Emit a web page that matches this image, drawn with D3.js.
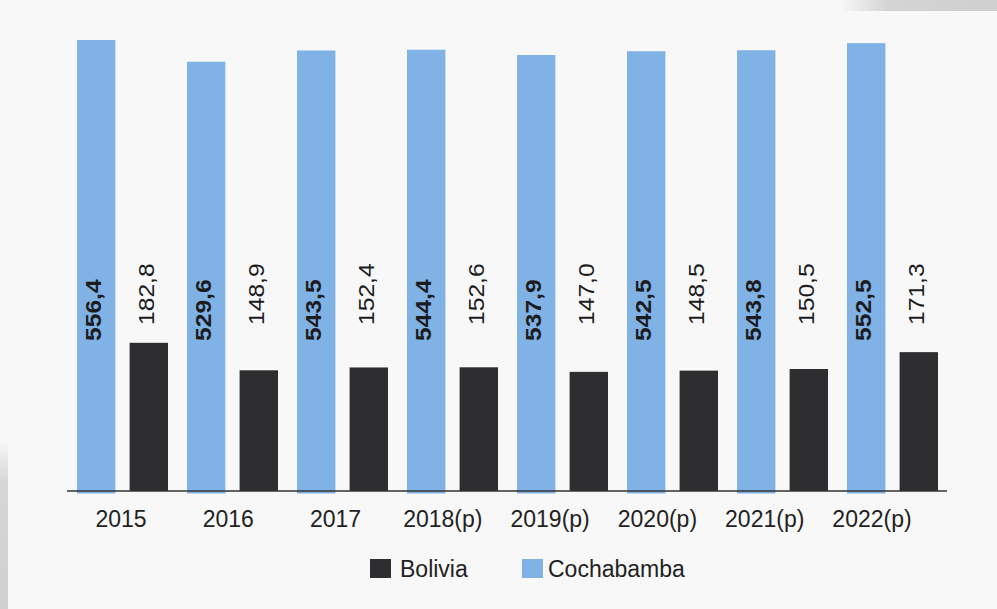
<!DOCTYPE html>
<html>
<head>
<meta charset="utf-8">
<script src="https://cdn.jsdelivr.net/npm/d3@7"></script>
<style>
  body { margin: 0; background: #f8f8f8; }
  svg { display: block; font-family: "Liberation Sans", Arial, sans-serif; }
</style>
</head>
<body>
<svg width="997" height="609"></svg>
<script>
const years = ["2015", "2016", "2017", "2018(p)", "2019(p)", "2020(p)", "2021(p)", "2022(p)"];
const cochabamba = [556.4, 529.6, 543.5, 544.4, 537.9, 542.5, 543.8, 552.5];
const bolivia = [182.8, 148.9, 152.4, 152.6, 147.0, 148.5, 150.5, 171.3];
const seriesNames = ["Cochabamba", "Bolivia"];
const legendNames = ["Bolivia", "Cochabamba"];

const width = 997, height = 609;
const baseY = 491;
const colors = { Cochabamba: "#80b2e6", Bolivia: "#2e2e30" };

const svg = d3.select("svg").attr("viewBox", [0, 0, width, height]);

// scan artefacts on edges
const defs = svg.append("defs");
const gTop = defs.append("linearGradient").attr("id", "gtop").attr("x1", 0).attr("x2", 1).attr("y1", 0).attr("y2", 0);
gTop.append("stop").attr("offset", 0).attr("stop-color", "#f8f8f8");
gTop.append("stop").attr("offset", 0.3).attr("stop-color", "#d4d4d4");
gTop.append("stop").attr("offset", 1).attr("stop-color", "#cfcfcf");
svg.append("rect").attr("x", 840).attr("y", 0).attr("width", 157).attr("height", 11).attr("fill", "url(#gtop)");
const gLeft = defs.append("linearGradient").attr("id", "gleft").attr("x1", 0).attr("x2", 0).attr("y1", 0).attr("y2", 1);
gLeft.append("stop").attr("offset", 0).attr("stop-color", "#f8f8f8");
gLeft.append("stop").attr("offset", 0.25).attr("stop-color", "#d6d6d6");
gLeft.append("stop").attr("offset", 1).attr("stop-color", "#d0d0d0");
svg.append("rect").attr("x", 0).attr("y", 440).attr("width", 8).attr("height", 169).attr("fill", "url(#gleft)");

const data = years.map((y, i) => ({ year: y, Cochabamba: cochabamba[i], Bolivia: bolivia[i] }));

const x0 = d3.scaleBand().domain(years).range([67, 947]);
const x1 = d3.scaleBand().domain(seriesNames).range([10, 101]).paddingInner(0.27);
const y = d3.scaleLinear().domain([0, 556.4]).range([baseY, 40]);
// category labels sit on a slightly tighter spacing than the bars
const xl = d3.scalePoint().domain(years).range([121, 872]);

const groups = svg.append("g").selectAll("g")
  .data(data)
  .join("g")
  .attr("transform", d => `translate(${x0(d.year)},0)`);

groups.selectAll("rect")
  .data(d => seriesNames.map(k => ({ key: k, value: d[k] })))
  .join("rect")
  .attr("x", d => x1(d.key))
  .attr("width", x1.bandwidth())
  .attr("y", d => y(d.value))
  .attr("height", d => baseY - y(d.value) + (d.key == "Cochabamba" ? 2.5 : 0))
  .attr("fill", d => colors[d.key]);

// value labels (rotated)
groups.selectAll("text")
  .data(d => seriesNames.map(k => ({ key: k, value: d[k] })))
  .join("text")
  .attr("transform", d => {
    const cx = x1(d.key) + x1.bandwidth() / 2;
    const ty = d.key == "Cochabamba" ? 341 : 325;
    return `translate(${cx + 5},${ty}) scale(1,1.12) rotate(-90)`;
  })
  .attr("text-anchor", "start")
  .attr("font-size", 22)
  .attr("font-weight", d => d.key == "Cochabamba" ? "bold" : "normal")
  .attr("fill", "#1c1c1e")
  .text(d => d3.format(".1f")(d.value).replace(".", ","));

// baseline
svg.append("line")
  .attr("x1", 67).attr("x2", 947)
  .attr("y1", baseY).attr("y2", baseY)
  .attr("stroke", "#333").attr("stroke-width", 1.5);

// category labels
svg.append("g").selectAll("text")
  .data(years)
  .join("text")
  .attr("x", d => xl(d))
  .attr("y", 527)
  .attr("text-anchor", "middle")
  .attr("font-size", 23)
  .attr("fill", "#222")
  .text(d => d);

// legend
const legendX = { Bolivia: 370, Cochabamba: 522 };
const legend = svg.append("g").selectAll("g")
  .data(legendNames)
  .join("g")
  .attr("transform", d => `translate(${legendX[d]},559)`);
legend.append("rect")
  .attr("width", 21).attr("height", 19)
  .attr("fill", d => colors[d]);
legend.append("text")
  .attr("x", d => d == "Bolivia" ? 30 : 26)
  .attr("y", 18)
  .attr("font-size", 23)
  .attr("fill", "#222")
  .text(d => d);
</script>
</body>
</html>
